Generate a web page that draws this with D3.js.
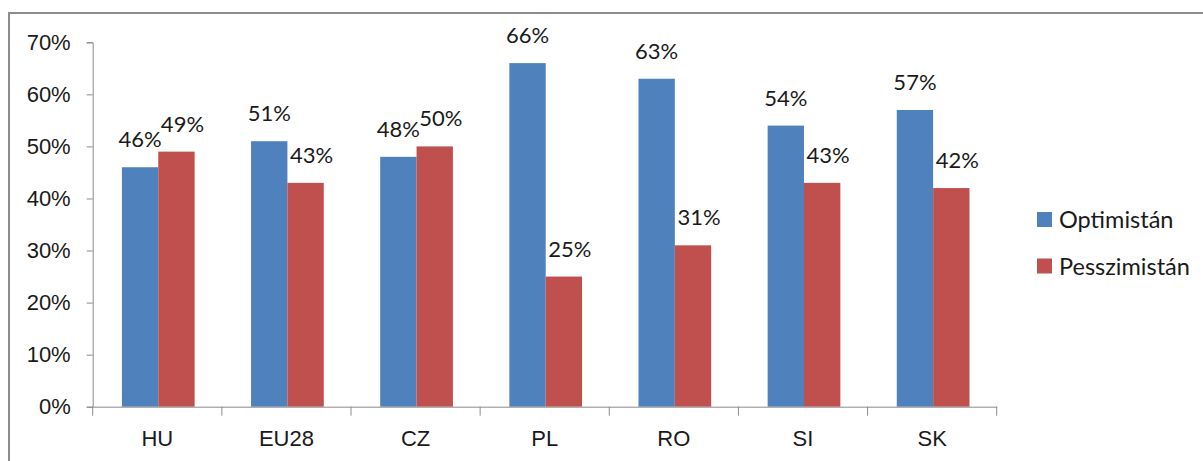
<!DOCTYPE html>
<html>
<head>
<meta charset="utf-8">
<script src="https://cdn.jsdelivr.net/npm/d3@7"></script>
<style>
  body { margin: 0; background: #fff; }
  svg { display: block; font-family: Lato, "Open Sans", sans-serif; }
</style>
</head>
<body>
<svg id="chart"></svg>
<script>
const categories = ['HU', 'EU28', 'CZ', 'PL', 'RO', 'SI', 'SK'];
const seriesNames = ['Optimistán', 'Pesszimistán'];
const optimistan = [0.46, 0.51, 0.48, 0.66, 0.63, 0.54, 0.57];
const pesszimistan = [0.49, 0.43, 0.50, 0.25, 0.31, 0.43, 0.42];
const yTicks = [0, 0.1, 0.2, 0.3, 0.4, 0.5, 0.6, 0.7];

const colors = { 'Optimistán': '#4f81bd', 'Pesszimistán': '#c0504d' };
const labelShift = { 'Optimistán': 0, 'Pesszimistán': 6 };

const width = 1203, height = 461;
const margin = { top: 42.3, right: 206.3, bottom: 54.3, left: 92.7 };
const innerW = width - margin.left - margin.right;
const innerH = height - margin.top - margin.bottom;

const svg = d3.select('#chart')
    .attr('width', width)
    .attr('height', height);

// outer frame (only top and left edges visible in the picture)
svg.append('path')
    .attr('d', `M9,${height} V13 H${width}`)
    .attr('fill', 'none')
    .attr('stroke', '#8c8c8c')
    .attr('stroke-width', 2);

const chart = svg.append('g')
    .attr('transform', `translate(${margin.left}, ${margin.top})`);

const x0 = d3.scaleBand()
    .domain(categories)
    .range([0, innerW])
    .padding(0);

const x1 = d3.scaleBand()
    .domain(seriesNames)
    .range([1, x0.bandwidth() + 1])
    .paddingOuter(0.776)
    .paddingInner(0);

const y = d3.scaleLinear()
    .domain([0, 0.7])
    .range([innerH, 0]);

const data = categories.map((c, i) => ({
    cat: c,
    values: [
        { name: seriesNames[0], v: optimistan[i] },
        { name: seriesNames[1], v: pesszimistan[i] }
    ]
}));

// y axis
const yAxis = d3.axisLeft(y)
    .tickValues(yTicks)
    .tickFormat(d3.format('.0%'))
    .tickSizeOuter(0)
    .tickSize(6)
    .tickPadding(16);

const yg = chart.append('g').call(yAxis);
yg.select('.domain').attr('stroke', '#8c8c8c');
yg.selectAll('.tick line').attr('stroke', '#8c8c8c');
yg.selectAll('.tick text')
    .attr('fill', '#1a1a1a')
    .attr('font-size', '22px');

// bars
const groups = chart.selectAll('.group')
    .data(data)
    .enter()
    .append('g')
    .attr('transform', d => `translate(${x0(d.cat)}, 0)`);

groups.selectAll('rect')
    .data(d => d.values)
    .enter()
    .append('rect')
    .attr('x', d => x1(d.name))
    .attr('y', d => y(d.v))
    .attr('width', x1.bandwidth())
    .attr('height', d => innerH - y(d.v))
    .attr('fill', d => colors[d.name]);

groups.selectAll('text.val')
    .data(d => d.values)
    .enter()
    .append('text')
    .attr('class', 'val')
    .attr('x', d => x1(d.name) + x1.bandwidth() / 2 + labelShift[d.name])
    .attr('y', d => y(d.v) - 20)
    .attr('text-anchor', 'middle')
    .attr('font-size', '22px')
    .attr('fill', '#1a1a1a')
    .text(d => d3.format('.0%')(d.v));

// x axis
const xAxis = d3.axisBottom(x0)
    .tickSize(0)
    .tickPadding(24);

const xg = chart.append('g')
    .attr('transform', `translate(0, ${innerH})`)
    .call(xAxis);
xg.select('.domain').attr('stroke', '#8c8c8c');
xg.selectAll('.tick text')
    .attr('fill', '#1a1a1a')
    .attr('font-size', '22px');

// category separators
chart.append('g')
    .selectAll('line')
    .data(categories.concat(['end']))
    .enter()
    .append('line')
    .attr('x1', (d, i) => i * x0.step())
    .attr('x2', (d, i) => i * x0.step())
    .attr('y1', innerH)
    .attr('y2', innerH + 9)
    .attr('stroke', '#8c8c8c');

// legend
const legend = svg.append('g')
    .attr('transform', 'translate(1037, 212)');

const items = legend.selectAll('g')
    .data(seriesNames)
    .enter()
    .append('g')
    .attr('transform', (d, i) => `translate(0, ${i * 46.5})`);

items.append('rect')
    .attr('width', 15)
    .attr('height', 15)
    .attr('fill', d => colors[d]);

items.append('text')
    .attr('x', 22)
    .attr('y', 16)
    .attr('font-size', '23.5px')
    .attr('fill', '#1a1a1a')
    .text(d => d);
</script>
</body>
</html>
